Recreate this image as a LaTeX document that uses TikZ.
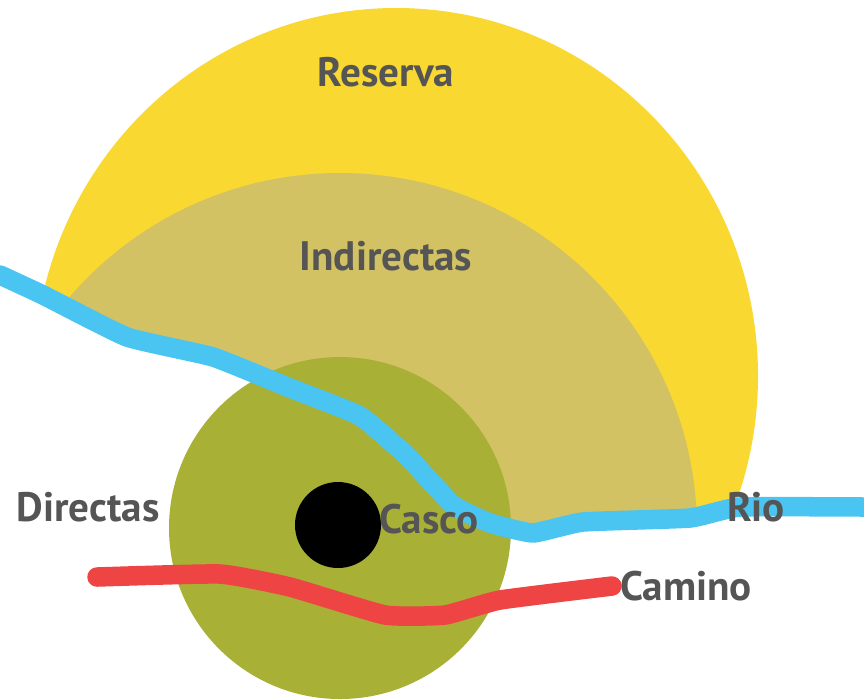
\documentclass[tikz,border=0pt]{standalone}
\usepackage{fontspec}
\setmainfont{PT Sans}
\usepackage{tikz}
\definecolor{reserva}{HTML}{F9D832}
\definecolor{indirectas}{HTML}{D3C264}
\definecolor{directas}{HTML}{A9B036}
\definecolor{rio}{HTML}{4AC4F0}
\definecolor{camino}{HTML}{EE4444}
\definecolor{rotulo}{HTML}{555555}

\begin{document}
\begin{tikzpicture}[x=0.01cm, y=-0.01cm]
      \tikzstyle{rotulo} = [text=rotulo, font=\fontsize{11.7pt}{13pt}\bfseries, inner sep=0pt]
      \tikzstyle{linea} = [line width=0.195cm, line join=round, line cap=round]
      \useasboundingbox (0, 0) rectangle (864, 699);
      % above the river
      \begin{scope}
        \clip (0, 0) -- (0, 275) -- (43, 295) -- (127, 337) -- (213, 357) -- (290, 388) -- (360, 416) -- (407, 456) -- (453, 505) -- (490, 523) -- (533, 533) -- (583, 522) -- (690, 518) -- (740, 507) -- (864, 507) -- (864, 0) -- cycle;
        \fill [reserva] (396, 376) ellipse [x radius=362, y radius=368];
        \fill [indirectas] (340, 530) circle [radius=357];
      \end{scope}
      \fill [directas] (340, 528) circle [radius=171];
      \fill [black] (338, 525) circle [radius=43];
      \draw [linea, rio] plot [smooth, tension=0.25] coordinates {(0, 275) (43, 295) (127, 337) (213, 357) (290, 388) (360, 416) (407, 456) (453, 505) (490, 523) (533, 533) (583, 522) (690, 518) (740, 507) (864, 507)};
      \draw [linea, camino] plot [smooth, tension=0.25] coordinates {(97, 577) (220, 574) (290, 587) (385, 615) (445, 615) (500, 600) (612, 586)};

      \node [rotulo] (res) at (386, 72) {Reserva};
      \node [rotulo] (ind) at (386, 256) {Indirectas};
      \node [rotulo] (dir) at (88, 507) {Directas};
      \node [rotulo] (cas) at (429, 519) {Casco};
      \node [rotulo] (rio) at (756, 507) {Rio};
      \node [rotulo] (cam) at (686, 586) {Camino};
    \end{tikzpicture}
\end{document}
